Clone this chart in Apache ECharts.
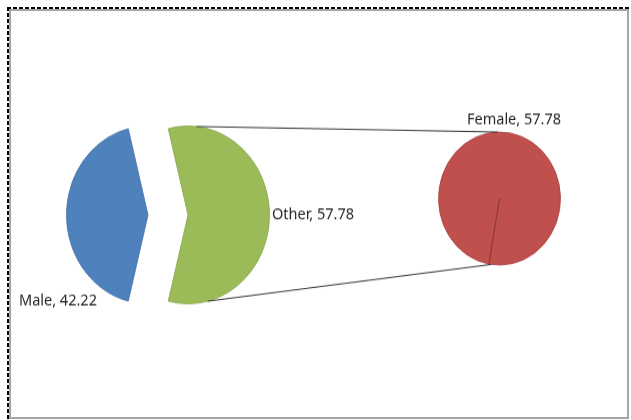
<!DOCTYPE html>
<html>
<head>
<meta charset="utf-8">
<script src="https://cdn.jsdelivr.net/npm/echarts@6/dist/echarts.min.js"></script>
<style>
html, body { margin: 0; padding: 0; background: #fff; }
body { width: 631px; height: 420px; position: relative; overflow: hidden; }
.dash-top { position: absolute; left: 7px; top: 7px; width: 624px; height: 2px;
  background: repeating-linear-gradient(to right, #000 0 4px, transparent 4px 6px); }
.dash-left { position: absolute; left: 7px; top: 7px; width: 2px; height: 413px;
  background: repeating-linear-gradient(to bottom, #000 0 4px, transparent 4px 6px); }
.frame { position: absolute; left: 9px; top: 9px; width: 616px; height: 406px; border: 2px solid #a6a6a6; }
/* Excel draws the pies slightly taller than wide */
#chart { position: absolute; left: 0; top: 0; width: 631px; height: 385px;
  transform: scaleY(1.0909); transform-origin: 0 0; }
</style>
</head>
<body>
<div class="frame"></div>
<div class="dash-top"></div>
<div class="dash-left"></div>
<div id="chart"></div>
<script>
// data
const mainCats = ['Male', 'Other']
const mainVals = [42.22, 57.78]
const subCats = ['Female']
const subVals = [57.78]
const exploded = 'Other'

// layout
const mainCenter = [148, 197]
const mainR = 81.5
const explode = 40
const subCenter = [499.5, 182]
const subR = 61
const labelPos = {
  Male: [19, 276, 'left'],
  Other: [272, 197, 'left'],
  Female: [514, 110, 'center']
}
const fills = { Male: '#4f81bd', Other: '#9bbb59', Female: '#c0504d' }
const edges = { Male: '#41709f', Other: '#84a44a', Female: '#a8403d' }
const seriesCats = [mainCats, mainCats, subCats]

const labelStyle = {
  show: true,
  position: 'inside',
  formatter: '{b}, {c}',
  fontFamily: 'Noto Sans',
  fontSize: 14.5,
  color: '#262626',
  overflow: 'none'
}

const placeLabel = params => {
  const cats = seriesCats[params.seriesIndex] || []
  const p = labelPos[cats[params.dataIndex]]
  if (!p) return {}
  return { x: p[0], y: p[1], align: p[2], verticalAlign: 'middle' }
}

// a slice drawn in full, or kept as an invisible placeholder so the
// other slices keep their angles
const sliceItem = (name, value, visible) => ({
  name,
  value,
  itemStyle: visible
    ? { color: fills[name], borderColor: edges[name], borderWidth: 0.8 }
    : { color: 'rgba(0,0,0,0)', borderWidth: 0 },
  label: { show: visible }
})

const pieBase = {
  type: 'pie',
  clockwise: true,
  avoidLabelOverlap: false,
  silent: true,
  emphasis: { disabled: true },
  label: labelStyle,
  labelLine: { show: false },
  labelLayout: placeLabel
}

const pt = (c, r, deg) => {
  const a = deg * Math.PI / 180
  return [c[0] + r * Math.cos(a), c[1] - r * Math.sin(a)]
}
const greenCenter = [mainCenter[0] + explode, mainCenter[1]]
const lineStyle = { stroke: '#1e1e1e', lineWidth: 0.9 }
const seg = (a, b, style) => ({
  type: 'line',
  z: 10,
  silent: true,
  shape: { x1: a[0], y1: a[1], x2: b[0], y2: b[1] },
  style
})

const chartIns = echarts.init(document.getElementById('chart'))
chartIns.setOption({
  backgroundColor: 'transparent',
  animation: false,
  series: [
    Object.assign({}, pieBase, {
      center: mainCenter,
      radius: mainR,
      startAngle: 256,
      data: mainCats.map((n, i) => sliceItem(n, mainVals[i], n !== exploded))
    }),
    Object.assign({}, pieBase, {
      center: greenCenter,
      radius: mainR,
      startAngle: 256,
      data: mainCats.map((n, i) => sliceItem(n, mainVals[i], n === exploded))
    }),
    Object.assign({}, pieBase, {
      center: subCenter,
      radius: subR,
      startAngle: 260,
      data: subCats.map((n, i) => sliceItem(n, subVals[i], true))
    })
  ],
  graphic: [
    seg(pt(greenCenter, mainR, 84), pt(subCenter, subR, 92), lineStyle),
    seg(pt(greenCenter, mainR, -76), pt(subCenter, subR, -98), lineStyle),
    seg(subCenter, pt(subCenter, subR, 260), { stroke: '#8b3533', lineWidth: 1 })
  ]
})
</script>
</body>
</html>
